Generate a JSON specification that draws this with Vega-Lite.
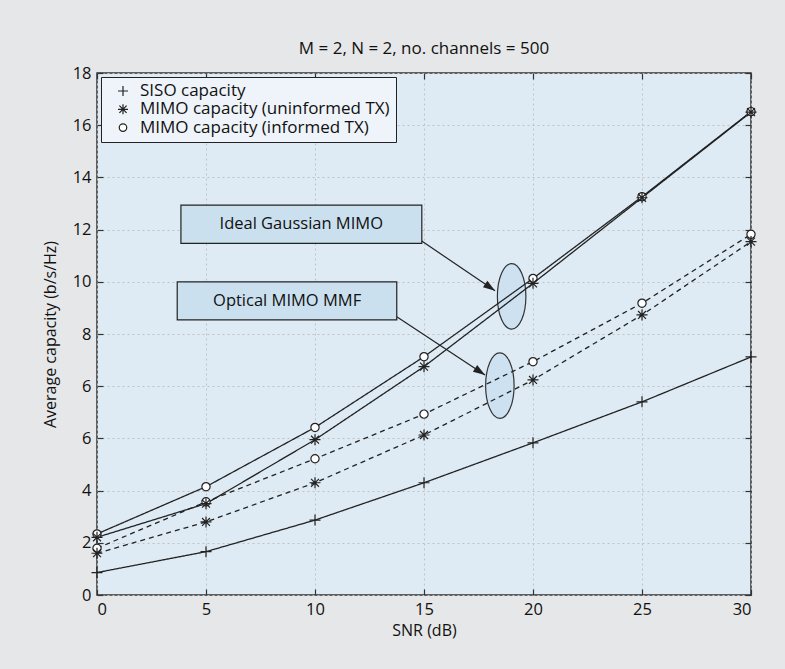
{
  "$schema": "https://vega.github.io/schema/vega-lite/v6.json",
  "width": 654,
  "height": 522,
  "autosize": {"type": "none"},
  "padding": {"left": 97, "top": 73, "right": 34, "bottom": 74},
  "background": "#e6e7e8",
  "title": {"text": "M = 2, N = 2, no. channels = 500", "font": "Open Sans", "fontSize": 17, "fontWeight": "normal", "color": "#111", "anchor": "middle", "frame": "group", "offset": 7},
  "config": {
    "view": {"fill": "#deebf4", "stroke": "#333", "strokeWidth": 1.5},
    "axis": {"domain": false, "tickColor": "#333", "tickSize": -6, "tickWidth": 1.2, "labelFont": "Open Sans", "labelFontSize": 16.5, "labelColor": "#111", "titleFont": "Open Sans", "titleFontSize": 16, "titleFontWeight": "normal", "titleColor": "#111", "gridColor": "#c2c2c2", "gridDash": [2, 3], "labelPadding": 12}
  },
  "resolve": {"axis": {"x": "independent", "y": "independent"}},
  "datasets": {
    "curves": [
      {"snr": 0, "capacity": 0.86, "model": "SISO", "metric": "SISO capacity"},
      {"snr": 5, "capacity": 1.66, "model": "SISO", "metric": "SISO capacity"},
      {"snr": 10, "capacity": 2.87, "model": "SISO", "metric": "SISO capacity"},
      {"snr": 15, "capacity": 4.3, "model": "SISO", "metric": "SISO capacity"},
      {"snr": 20, "capacity": 5.83, "model": "SISO", "metric": "SISO capacity"},
      {"snr": 25, "capacity": 7.4, "model": "SISO", "metric": "SISO capacity"},
      {"snr": 30, "capacity": 9.12, "model": "SISO", "metric": "SISO capacity"},
      {"snr": 0, "capacity": 2.34, "model": "Ideal Gaussian MIMO", "metric": "MIMO capacity (informed TX)"},
      {"snr": 5, "capacity": 4.15, "model": "Ideal Gaussian MIMO", "metric": "MIMO capacity (informed TX)"},
      {"snr": 10, "capacity": 6.42, "model": "Ideal Gaussian MIMO", "metric": "MIMO capacity (informed TX)"},
      {"snr": 15, "capacity": 9.13, "model": "Ideal Gaussian MIMO", "metric": "MIMO capacity (informed TX)"},
      {"snr": 20, "capacity": 12.13, "model": "Ideal Gaussian MIMO", "metric": "MIMO capacity (informed TX)"},
      {"snr": 25, "capacity": 15.26, "model": "Ideal Gaussian MIMO", "metric": "MIMO capacity (informed TX)"},
      {"snr": 30, "capacity": 18.52, "model": "Ideal Gaussian MIMO", "metric": "MIMO capacity (informed TX)"},
      {"snr": 0, "capacity": 1.79, "model": "Optical MIMO MMF", "metric": "MIMO capacity (informed TX)"},
      {"snr": 5, "capacity": 3.57, "model": "Optical MIMO MMF", "metric": "MIMO capacity (informed TX)"},
      {"snr": 10, "capacity": 5.22, "model": "Optical MIMO MMF", "metric": "MIMO capacity (informed TX)"},
      {"snr": 15, "capacity": 6.93, "model": "Optical MIMO MMF", "metric": "MIMO capacity (informed TX)"},
      {"snr": 20, "capacity": 8.94, "model": "Optical MIMO MMF", "metric": "MIMO capacity (informed TX)"},
      {"snr": 25, "capacity": 11.18, "model": "Optical MIMO MMF", "metric": "MIMO capacity (informed TX)"},
      {"snr": 30, "capacity": 13.82, "model": "Optical MIMO MMF", "metric": "MIMO capacity (informed TX)"},
      {"snr": 0, "capacity": 2.21, "model": "Ideal Gaussian MIMO", "metric": "MIMO capacity (uninformed TX)"},
      {"snr": 5, "capacity": 3.5, "model": "Ideal Gaussian MIMO", "metric": "MIMO capacity (uninformed TX)"},
      {"snr": 10, "capacity": 5.95, "model": "Ideal Gaussian MIMO", "metric": "MIMO capacity (uninformed TX)"},
      {"snr": 15, "capacity": 8.75, "model": "Ideal Gaussian MIMO", "metric": "MIMO capacity (uninformed TX)"},
      {"snr": 20, "capacity": 11.94, "model": "Ideal Gaussian MIMO", "metric": "MIMO capacity (uninformed TX)"},
      {"snr": 25, "capacity": 15.22, "model": "Ideal Gaussian MIMO", "metric": "MIMO capacity (uninformed TX)"},
      {"snr": 30, "capacity": 18.5, "model": "Ideal Gaussian MIMO", "metric": "MIMO capacity (uninformed TX)"},
      {"snr": 0, "capacity": 1.6, "model": "Optical MIMO MMF", "metric": "MIMO capacity (uninformed TX)"},
      {"snr": 5, "capacity": 2.8, "model": "Optical MIMO MMF", "metric": "MIMO capacity (uninformed TX)"},
      {"snr": 10, "capacity": 4.3, "model": "Optical MIMO MMF", "metric": "MIMO capacity (uninformed TX)"},
      {"snr": 15, "capacity": 6.13, "model": "Optical MIMO MMF", "metric": "MIMO capacity (uninformed TX)"},
      {"snr": 20, "capacity": 8.24, "model": "Optical MIMO MMF", "metric": "MIMO capacity (uninformed TX)"},
      {"snr": 25, "capacity": 10.73, "model": "Optical MIMO MMF", "metric": "MIMO capacity (uninformed TX)"},
      {"snr": 30, "capacity": 13.54, "model": "Optical MIMO MMF", "metric": "MIMO capacity (uninformed TX)"}
    ],
    "boxes": [
      {"label": "Ideal Gaussian MIMO", "x_left": 3.85, "x_right": 14.9, "y_bottom": 13.47, "y_top": 14.94, "x_mid": 9.37, "y_mid": 14.2},
      {"label": "Optical MIMO MMF", "x_left": 3.68, "x_right": 13.75, "y_bottom": 10.54, "y_top": 12.0, "x_mid": 8.72, "y_mid": 11.27}
    ],
    "arrows": [
      {"target": "Ideal Gaussian MIMO", "x_from": 14.88, "y_from": 13.57, "x_to": 18.26, "y_to": 11.66, "heading": 34.1},
      {"target": "Optical MIMO MMF", "x_from": 13.75, "y_from": 10.66, "x_to": 17.8, "y_to": 8.43, "heading": 33.4}
    ],
    "ellipses": [
      {"group": "Ideal Gaussian MIMO", "snr": 19.02, "capacity": 11.44},
      {"group": "Optical MIMO MMF", "snr": 18.48, "capacity": 8.02}
    ]
  },
  "layer": [
    {
      "data": {"name": "curves"},
      "mark": {"type": "point", "opacity": 0},
      "encoding": {
        "x": {"field": "snr", "type": "quantitative", "scale": {"domain": [0, 30], "nice": false, "zero": false}, "axis": {"orient": "top", "labels": false, "title": null, "grid": false, "values": [0, 5, 10, 15, 20, 25, 30]}},
        "y": {"field": "capacity", "type": "quantitative", "scale": {"domain": [0, 20], "nice": false}, "axis": {"orient": "right", "labels": false, "title": null, "grid": false, "values": [0, 2, 4, 6, 8, 10, 12, 14, 16, 18, 20]}}
      }
    },
    {
      "data": {"name": "ellipses"},
      "mark": {"type": "point", "shape": "M 0 -1 A 0.435 1 0 1 1 0 1 A 0.435 1 0 1 1 0 -1 Z", "size": 4290, "filled": true, "fill": "#cde1f0", "stroke": "#333", "strokeWidth": 1.2, "opacity": 1},
      "encoding": {
        "x": {"field": "snr", "type": "quantitative", "axis": null},
        "y": {"field": "capacity", "type": "quantitative", "axis": null}
      }
    },
    {
      "data": {"name": "arrows"},
      "mark": {"type": "rule", "stroke": "#222", "strokeWidth": 1.2},
      "encoding": {
        "x": {"field": "x_from", "type": "quantitative", "axis": null},
        "y": {"field": "y_from", "type": "quantitative", "axis": null},
        "x2": {"field": "x_to"},
        "y2": {"field": "y_to"}
      }
    },
    {
      "data": {"name": "arrows"},
      "mark": {"type": "point", "shape": "M 0 0 L -2 -0.65 L -2 0.65 Z", "size": 144, "filled": true, "fill": "#222", "strokeWidth": 0, "opacity": 1},
      "encoding": {
        "x": {"field": "x_to", "type": "quantitative", "axis": null},
        "y": {"field": "y_to", "type": "quantitative", "axis": null},
        "angle": {"field": "heading", "type": "quantitative", "scale": null}
      }
    },
    {
      "data": {"name": "boxes"},
      "mark": {"type": "rect", "fill": "#cbe0ef", "stroke": "#222", "strokeWidth": 1.2},
      "encoding": {
        "x": {"field": "x_left", "type": "quantitative", "axis": null},
        "x2": {"field": "x_right"},
        "y": {"field": "y_bottom", "type": "quantitative", "axis": null},
        "y2": {"field": "y_top"}
      }
    },
    {
      "data": {"name": "boxes"},
      "mark": {"type": "text", "font": "Open Sans", "fontSize": 16.5, "color": "#111", "align": "center", "baseline": "middle"},
      "encoding": {
        "x": {"field": "x_mid", "type": "quantitative", "axis": null},
        "y": {"field": "y_mid", "type": "quantitative", "axis": null},
        "text": {"field": "label"}
      }
    },
    {
      "data": {"name": "curves"},
      "mark": {"type": "line", "color": "#222", "strokeWidth": 1.3},
      "encoding": {
        "x": {"field": "snr", "type": "quantitative", "axis": {"values": [0, 5, 10, 15, 20, 25, 30], "title": "SNR (dB)", "grid": true, "titlePadding": 5}},
        "y": {"field": "capacity", "type": "quantitative", "axis": {"values": [0, 2, 4, 6, 8, 10, 12, 14, 16, 18, 20], "title": "Average capacity (b/s/Hz)", "grid": true, "titlePadding": 14, "labelExpr": "datum.value <= 6 ? format(datum.value, 'd') : format(datum.value - 2, 'd')"}},
        "detail": {"field": "metric"},
        "strokeDash": {"field": "model", "type": "nominal", "scale": {"domain": ["SISO", "Ideal Gaussian MIMO", "Optical MIMO MMF"], "range": [[1, 0], [1, 0], [5, 4]]}, "legend": null}
      }
    },
    {
      "data": {"name": "curves"},
      "mark": {"type": "point", "filled": false, "fill": "white", "strokeWidth": 1.2, "size": 121, "opacity": 1},
      "encoding": {
        "x": {"field": "snr", "type": "quantitative", "axis": null},
        "y": {"field": "capacity", "type": "quantitative", "axis": null},
        "shape": {
          "field": "metric",
          "type": "nominal",
          "scale": {
            "domain": ["SISO capacity", "MIMO capacity (uninformed TX)", "MIMO capacity (informed TX)"],
            "range": ["M -1 0 L 1 0 M 0 -1 L 0 1", "M -1 0 L 1 0 M 0 -1 L 0 1 M -0.72 -0.72 L 0.72 0.72 M -0.72 0.72 L 0.72 -0.72", "M 0.75 0 A 0.75 0.75 0 1 1 -0.75 0 A 0.75 0.75 0 1 1 0.75 0 Z"]
          },
          "legend": null
        },
        "color": {
          "field": "metric",
          "type": "nominal",
          "scale": {"domain": ["SISO capacity", "MIMO capacity (uninformed TX)", "MIMO capacity (informed TX)"], "range": ["#222222", "#222222", "#222222"]},
          "legend": {
            "title": null,
            "orient": "none",
            "legendX": 4,
            "legendY": 4,
            "padding": 5.5,
            "rowPadding": 0.3,
            "fillColor": "#eef4f9",
            "strokeColor": "#222",
            "labelFont": "Open Sans",
            "labelFontSize": 17,
            "labelColor": "#111",
            "labelLimit": 500,
            "symbolSize": 100,
            "symbolOffset": 8,
            "labelOffset": 8.5,
            "symbolStrokeWidth": 1.2,
            "encode": {
              "symbols": {
                "size": {"value": 100},
                "fill": {"value": "white"},
                "strokeWidth": {"value": 1.2}
              }
            }
          }
        }
      }
    }
  ]
}
